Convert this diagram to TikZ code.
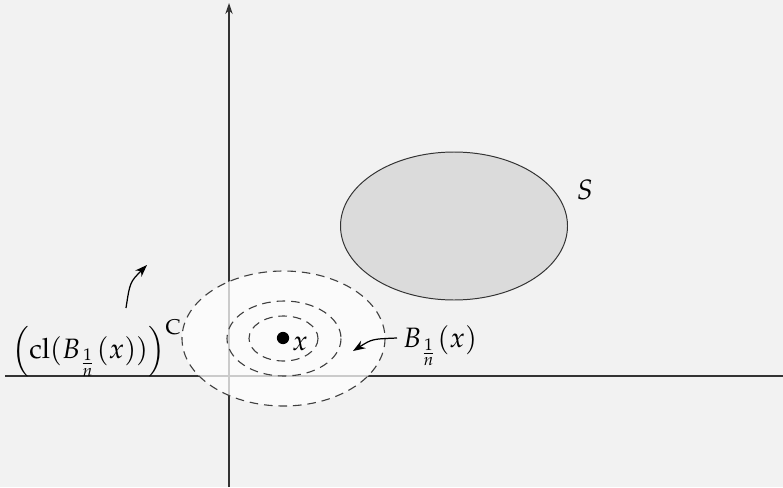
\documentclass[tikz,border=0pt]{standalone}
\usepackage{mathpazo}
\usetikzlibrary{arrows.meta}
\tikzset{
  axis/.style    = {draw=black!80, line width=0.5pt},
  ball/.style    = {draw=black!75, line width=0.45pt, dash pattern=on 3.5pt off 2.4pt},
  setS/.style    = {draw=black!80, fill=black!14, line width=0.4pt},
  pointer/.style = {-{Stealth[length=5pt,width=3.6pt]}, line width=0.5pt},
}
\definecolor{paper}{RGB}{242,242,242}

\begin{document}
\begin{tikzpicture}[x=0.0143cm, y=-0.0143cm, every node/.style={font=\fontsize{11.4}{13}\selectfont}]
\fill[paper] (0,0) rectangle (783,487);
\useasboundingbox (0,0) rectangle (783,487);
% axes
\draw[axis] (5,376) -- (783,376);
\draw[axis, -{Stealth[length=4.5pt,width=3pt]}] (229,487) -- (229,3);
% the set S
\draw[setS] (454,226) ellipse [x radius=113.5, y radius=74];
\node (S) at (585,190) {$S$};
% balls round x
\fill[white, opacity=0.75] (283.5,338.5) ellipse [x radius=101.5, y radius=67.5];
\draw[ball] (283.5,338.5) ellipse [x radius=101.5, y radius=67.5];
\draw[ball] (284,338.5) ellipse [x radius=57, y radius=37.5];
\draw[ball] (283.5,338.5) ellipse [x radius=34.5, y radius=22.5];
\fill (283,338) circle (2.5pt);
\node (x) at (300,344) {$x$};
% labels
\node (ball) at (440,346) {$B_{\frac{1}{n}}(x)$};
\node (clc) at (97,348) {$\left(\mathrm{cl}(B_{\frac{1}{n}}(x))\right)^{\mathrm{C}}$};
\coordinate (ballarr) at (397,338);
\coordinate (balltip) at (353,351);
\draw[pointer] (ballarr) .. controls (372,339) .. (balltip);
\coordinate (clcarr) at (126,308);
\coordinate (clctip) at (147,265);
\draw[pointer] (clcarr) .. controls (130,282) .. (clctip);
\end{tikzpicture}
\end{document}
